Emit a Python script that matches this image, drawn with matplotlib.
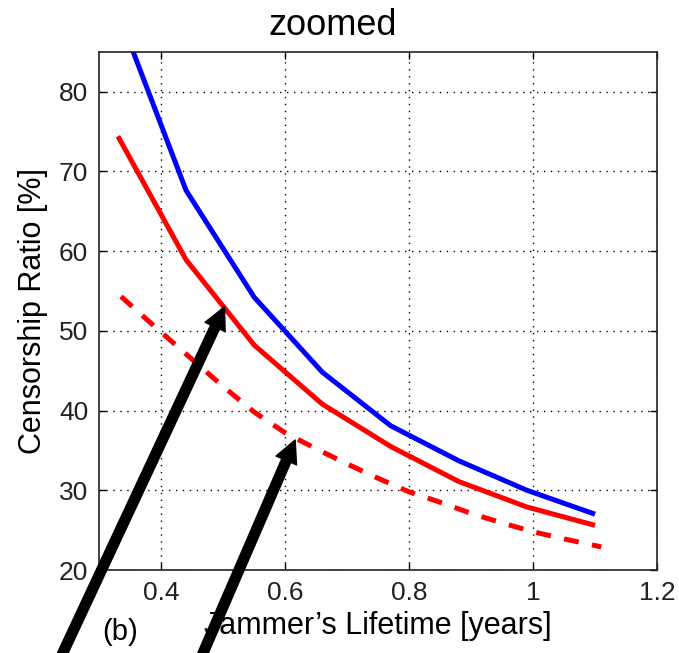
import matplotlib
matplotlib.use("Agg")
import matplotlib.pyplot as plt

plt.rcParams['font.family'] = ['Liberation Sans', 'DejaVu Sans']

# jammer lifetime [years]
x = [0.33, 0.44, 0.55, 0.66, 0.77, 0.88, 0.99, 1.10]
blue = [90.0, 67.6, 54.2, 44.8, 38.1, 33.7, 30.0, 27.0]
red = [74.4, 58.9, 48.2, 40.8, 35.5, 31.1, 27.9, 25.6]

xd = [0.335, 0.40, 0.45, 0.50, 0.55, 0.60, 0.65, 0.70, 0.75, 0.80, 0.85, 0.90, 0.95, 1.00, 1.05, 1.11]
red_dash = [54.3, 49.8, 46.4, 43.0, 39.8, 37.2, 35.2, 33.3, 31.5, 29.8, 28.5, 27.1, 25.9, 24.8, 23.9, 22.9]

xticks = [0.4, 0.6, 0.8, 1.0, 1.2]
xticklabels = ['0.4', '0.6', '0.8', '1', '1.2']
yticks = [20, 30, 40, 50, 60, 70, 80]

fig = plt.figure(figsize=(6.79, 6.53), dpi=100)
ax = fig.add_axes([0.1463, 0.1271, 0.8213, 0.7937])

ax.plot(x, blue, color='#0000ff', lw=3.6, solid_capstyle='butt')
ax.plot(x, red, color='#ff0000', lw=3.6, solid_capstyle='butt')
ax.plot(xd, red_dash, color='#ff0000', lw=3.6, dashes=(3, 2.7), dash_capstyle='butt')

ax.set_xlim(0.3, 1.2)
ax.set_ylim(20, 85)
ax.set_xticks(xticks)
ax.set_xticklabels(xticklabels)
ax.set_yticks(yticks)
ax.grid(True, color='black', linestyle=(0, (1, 4)), linewidth=1.0)
ax.tick_params(direction='in', top=True, right=True, length=5, width=1,
               labelsize=19, labelcolor='#222222', pad=8)
for s in ax.spines.values():
    s.set_linewidth(1.2)
    s.set_color('#222222')

ax.set_title('zoomed', fontsize=26, pad=12, x=0.419)
ax.set_xlabel("Jammer\u2019s Lifetime [years]", fontsize=22, labelpad=4)
ax.set_ylabel('Censorship Ratio [%]', fontsize=22, labelpad=8)

fig.text(0.177, 0.032, '(b)', fontsize=21, ha='center', va='center')

# arrows pointing at the curves, coming from below the figure
arrow_kw = dict(arrowstyle='simple,head_length=1.6,head_width=1.6,tail_width=0.7',
                color='black', mutation_scale=10, shrinkA=0, shrinkB=0)
ax.annotate('', xy=(0.502, 53.0), xycoords='data',
            xytext=(0.074, -0.041), textcoords='figure fraction',
            arrowprops=arrow_kw, annotation_clip=False)
ax.annotate('', xy=(0.616, 36.3), xycoords='data',
            xytext=(0.282, -0.041), textcoords='figure fraction',
            arrowprops=arrow_kw, annotation_clip=False)

fig.savefig('out.png', dpi=100)
